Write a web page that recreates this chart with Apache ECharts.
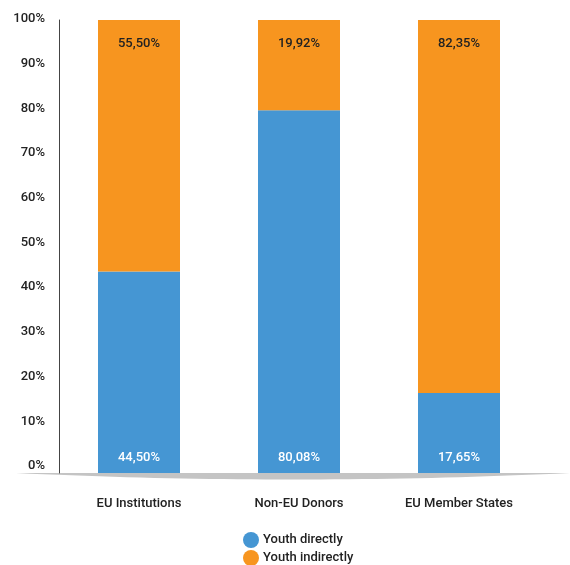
<!DOCTYPE html>
<html>
<head>
<meta charset="utf-8">
<script src="https://cdn.jsdelivr.net/npm/echarts@6/dist/echarts.min.js"></script>
<style>
  html, body { margin: 0; padding: 0; background: #fff; }
  #chart { width: 570px; height: 565px; }
</style>
</head>
<body>
<div id="chart"></div>
<script>
// Funding split by donor group, share of total (%)
const categories = ['EU Institutions', 'Non-EU Donors', 'EU Member States'];
const youthDirectly = [44.50, 80.08, 17.65];
const youthIndirectly = [55.50, 19.92, 82.35];
const seriesNames = ['Youth directly', 'Youth indirectly'];

const BLUE = '#4596d3';
const ORANGE = '#f7951f';
const FONT = 'Roboto';
const TEXT = { fontFamily: FONT, fontSize: 13, fontWeight: 500, color: '#222' };

const fmt = v => v.toFixed(2).replace('.', ',') + '%';

// Lens-shaped floor under the bars: flat top edge, curved lower edge
function floorPoints(x0, x1, y, depth, steps) {
  const pts = [[x0, y], [x1, y]];
  for (let i = steps; i >= 0; i--) {
    const t = i / steps;
    const x = x0 + (x1 - x0) * t;
    pts.push([x, y + depth * 4 * t * (1 - t)]);
  }
  return pts;
}

// one legend row per series, stacked vertically
const legendRow = (name, top) => ({
  left: 238,
  top: top,
  itemWidth: 16,
  itemHeight: 16,
  icon: 'circle',
  textStyle: Object.assign({}, TEXT, { padding: [0, 0, 0, -1] }),
  data: [name]
});

const chart = echarts.init(document.getElementById('chart'));

chart.setOption({
  animation: false,
  backgroundColor: '#fff',
  textStyle: { fontFamily: FONT },
  grid: [
    { left: 59, right: 31, top: 20, bottom: 92 },
    { left: 59, right: 31, top: 19, bottom: 99 }
  ],
  legend: [legendRow(seriesNames[0], 527), legendRow(seriesNames[1], 545)],
  xAxis: [
    {
      type: 'category',
      gridIndex: 0,
      data: categories,
      axisLine: { show: false },
      axisTick: { show: false },
      axisLabel: Object.assign({ margin: 24 }, TEXT)
    },
    {
      type: 'category', gridIndex: 1, data: categories, show: false
    }
  ],
  yAxis: [
    {
      type: 'value',
      gridIndex: 0,
      min: 0, max: 100, interval: 10,
      axisLine: { show: true, lineStyle: { color: '#444', width: 1 } },
      axisTick: { show: false },
      axisLabel: { show: false },
      splitLine: { show: false }
    },
    {
      type: 'value',
      gridIndex: 1,
      min: 0, max: 100, interval: 10,
      axisLine: { show: false },
      axisTick: { show: false },
      splitLine: { show: false },
      axisLabel: Object.assign({ margin: 14, formatter: v => v + '%' }, TEXT)
    }
  ],
  graphic: [
    {
      type: 'polygon',
      z: 0,
      shape: { points: floorPoints(16, 570, 473, 6.5, 40) },
      style: { fill: '#c4c4c4' }
    }
  ],
  series: [
    {
      name: seriesNames[0],
      type: 'bar',
      stack: 'total',
      barWidth: 82,
      itemStyle: { color: BLUE },
      label: Object.assign({
        show: true,
        position: 'insideBottom',
        distance: 9,
        formatter: p => fmt(p.value)
      }, TEXT, { color: '#fff' }),
      data: youthDirectly
    },
    {
      name: seriesNames[1],
      type: 'bar',
      stack: 'total',
      barWidth: 82,
      itemStyle: { color: ORANGE },
      label: Object.assign({
        show: true,
        position: 'insideTop',
        distance: 17,
        formatter: p => fmt(p.value)
      }, TEXT),
      data: youthIndirectly
    }
  ]
});
</script>
</body>
</html>
